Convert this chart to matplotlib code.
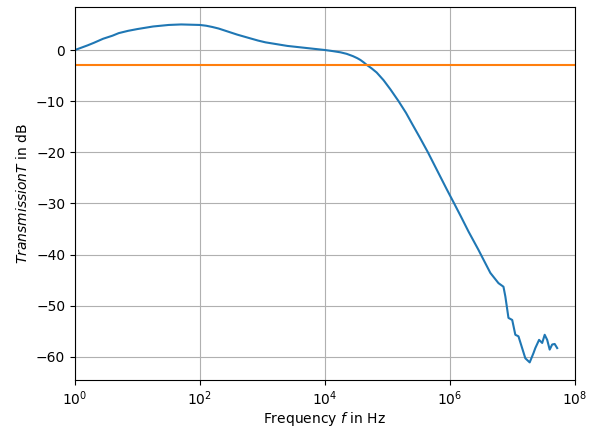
import matplotlib
matplotlib.use("Agg")
import matplotlib.pyplot as plt
from matplotlib.ticker import NullLocator, FixedLocator

# Frequency in Hz
frequency = [1.0, 1.259, 1.585, 2.0, 2.818, 3.981, 5.012, 7.079, 10.0, 17.78, 31.62, 50.12,
             100.0, 125.9, 158.5, 199.5, 251.2, 316.2, 398.1, 501.2, 631.0, 851.1,
             1122.0, 1585.0, 2512.0, 3548.0, 5012.0, 7079.0, 10000.0,
             13183.0, 17783.0, 22387.0, 28184.0, 33113.0, 37154.0, 41687.0, 46774.0,
             56234.0, 67608.0, 87096.0, 112202.0, 151356.0, 199526.0,
             251189.0, 331131.0, 446684.0, 562341.0, 707946.0, 891251.0,
             1.175e6, 1.514e6, 1.995e6, 2.399e6, 2.884e6, 3.467e6,
             4.467e6, 6.026e6, 7.244e6, 7.762e6, 8.71e6, 1.0e7, 1.122e7, 1.259e7,
             1.622e7, 1.905e7, 2.188e7, 2.344e7, 2.692e7, 3.02e7, 3.311e7,
             3.631e7, 3.981e7, 4.365e7, 4.786e7, 5.248e7]
# Transmission in dB
transmission = [0.0, 0.45, 0.9, 1.4, 2.2, 2.8, 3.3, 3.75, 4.1, 4.6, 4.9, 5.0,
                4.9, 4.75, 4.5, 4.2, 3.8, 3.4, 3.0, 2.65, 2.3, 1.85,
                1.5, 1.2, 0.8, 0.6, 0.4, 0.2, 0.0,
                -0.2, -0.45, -0.75, -1.2, -1.6, -1.95, -2.4, -2.9,
                -3.6, -4.4, -5.9, -7.7, -10.0, -12.3,
                -14.5, -17.1, -20.0, -22.4, -24.8, -27.2,
                -30.0, -32.6, -35.5, -37.3, -39.1, -41.0,
                -43.6, -45.6, -46.3, -48.2, -52.4, -52.8, -55.7, -56.0,
                -60.3, -61.1, -59.3, -58.3, -56.7, -57.3, -55.7,
                -56.7, -58.6, -57.6, -57.5, -58.3]
threshold_db = -3
xticks = [1e0, 1e2, 1e4, 1e6, 1e8]

fig = plt.figure(figsize=(5.97, 4.28), dpi=100)
ax = fig.add_axes([0.1256, 0.1121, 0.837, 0.8708])
ax.semilogx(frequency, transmission, color="C0", lw=1.5)
ax.axhline(threshold_db, color="C1", lw=1.5)
ax.set_xlim(1, 1e8)
ax.set_ylim(-64.55, 8.35)
ax.xaxis.set_major_locator(FixedLocator(xticks))
ax.xaxis.set_minor_locator(NullLocator())
ax.grid(True)
ax.set_xlabel(r"Frequency $f$ in Hz", labelpad=1)
ax.set_ylabel(r"$Transmission T$ in dB")
fig.savefig("out.png", dpi=100)
